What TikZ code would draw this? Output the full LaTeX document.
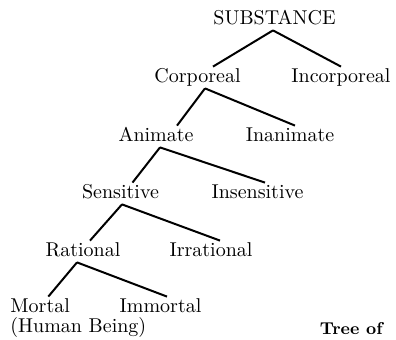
\documentclass[tikz,border=0pt]{standalone}
\usetikzlibrary{positioning}
\begin{document}
\begin{tikzpicture}[x=0.5pt, y=-0.5pt,
    every node/.style={font=\fontsize{10}{12}\selectfont, anchor=base,
        text height=7pt, text depth=1.5pt, inner xsep=0pt, inner ysep=1pt},
    branch/.style={line width=1pt}]
    \useasboundingbox (0,0) rectangle (396,340);

    \node (substance) at (274.5,25) {SUBSTANCE};

    \node (corporeal) at (197.5,83) {Corporeal};
    \node (incorporeal) at (341,83) {Incorporeal};

    \node (animate) at (156,142) {Animate};
    \node (inanimate) at (290,142) {Inanimate};

    \node (sensitive) at (120.5,199) {Sensitive};
    \node (insensitive) at (257.5,199) {Insensitive};

    \node (rational) at (83,257) {Rational};
    \node (irrational) at (211,257) {Irrational};

    \node[anchor=base west] (mortal) at (10,313) {Mortal};
    \node (immortal) at (160.5,313) {Immortal};
    \node[anchor=base west] (human) at (10,333) {(Human Being)};

    \node[anchor=base east, font=\fontsize{8.6}{10}\selectfont\bfseries] (tree) at (383,335) {Tree of};

    \draw[branch] ([xshift=-0.75pt]substance.south) -- ([xshift=7.75pt]corporeal.north);
    \draw[branch] ([xshift=-0.75pt]substance.south) -- (incorporeal.north);

    \draw[branch] ([xshift=3.75pt]corporeal.south) -- ([xshift=10.5pt]animate.north);
    \draw[branch] ([xshift=3.75pt]corporeal.south) -- ([xshift=2.5pt]inanimate.north);

    \draw[branch] ([xshift=2pt]animate.south) -- ([xshift=6pt]sensitive.north);
    \draw[branch] ([xshift=2pt]animate.south) -- ([xshift=3.75pt]insensitive.north);

    \draw[branch] ([xshift=0.75pt]sensitive.south) -- ([xshift=3.5pt]rational.north);
    \draw[branch] ([xshift=0.75pt]sensitive.south) -- ([xshift=4.5pt]irrational.north);

    \draw[branch] ([xshift=-3pt]rational.south) -- ([xshift=-11pt]mortal.north east);
    \draw[branch] ([xshift=-3pt]rational.south) -- ([xshift=3.25pt]immortal.north);
\end{tikzpicture}
\end{document}
